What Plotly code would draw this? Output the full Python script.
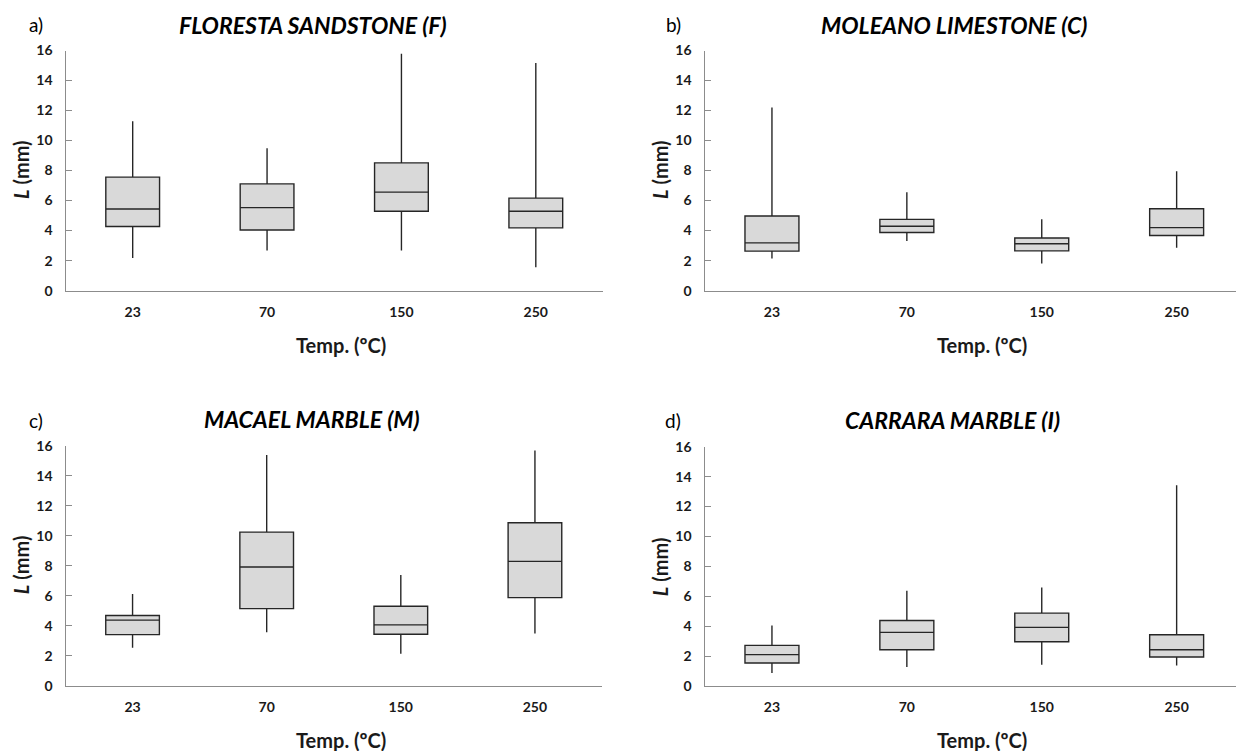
import plotly.graph_objects as go

W, H = 1236, 751
temps = ["23", "70", "150", "250"]

# Panel a) Floresta sandstone
a_low = [2.18, 2.67, 2.67, 1.56]
a_q1 = [4.27, 4.04, 5.29, 4.18]
a_med = [5.44, 5.53, 6.56, 5.29]
a_q3 = [7.56, 7.11, 8.51, 6.16]
a_up = [11.29, 9.49, 15.78, 15.16]

# Panel b) Moleano limestone
b_low = [2.14, 3.31, 1.81, 2.85]
b_q1 = [2.63, 3.87, 2.65, 3.67]
b_med = [3.18, 4.29, 3.12, 4.20]
b_q3 = [4.97, 4.75, 3.51, 5.46]
b_up = [12.2, 6.56, 4.75, 7.96]

# Panel c) Macael marble
c_low = [2.53, 3.57, 2.13, 3.48]
c_q1 = [3.41, 5.14, 3.43, 5.87]
c_med = [4.37, 7.91, 4.06, 8.29]
c_q3 = [4.68, 10.24, 5.30, 10.86]
c_up = [6.12, 15.38, 7.38, 15.67]

# Panel d) Carrara marble
d_low = [0.89, 1.29, 1.44, 1.38]
d_q1 = [1.55, 2.44, 2.97, 1.95]
d_med = [2.11, 3.60, 3.93, 2.44]
d_q3 = [2.73, 4.39, 4.88, 3.44]
d_up = [4.06, 6.37, 6.59, 13.43]

titles = ["FLORESTA SANDSTONE (F)", "MOLEANO LIMESTONE (C)", "MACAEL MARBLE (M)", "CARRARA MARBLE (I)"]
letters = ["a)", "b)", "c)", "d)"]
xtitle = "Temp. (ºC)"
ytitle = "<i>L</i> (mm)"

FONT = "Lato"

panels = [
    (a_low, a_q1, a_med, a_q3, a_up),
    (b_low, b_q1, b_med, b_q3, b_up),
    (c_low, c_q1, c_med, c_q3, c_up),
    (d_low, d_q1, d_med, d_q3, d_up),
]


def px(x):
    return x / W


def py(y):
    # small vertical calibration of the rendered page
    y2 = (y - 9.0) / 0.977
    return 1 - y2 / H


# target pixel layout of plot areas (left, right, top, bottom)
areas = [
    (65.5, 603, 50.5, 290.5),
    (704.5, 1236, 50.5, 290.5),
    (65.5, 602, 445.5, 685.5),
    (704.5, 1236, 446.5, 686),
]
# category spacing ~134 px; right panels are clipped by the page edge
xranges = [[-0.5, 3.5], [-0.5, 3.44], [-0.5, 3.5], [-0.5, 3.44]]

fig = go.Figure()
layout = dict(
    width=W, height=H, margin=dict(l=0, r=0, t=0, b=0), autosize=False,
    paper_bgcolor="white", plot_bgcolor="white", showlegend=False,
    font=dict(family=FONT, color="#1a1a1a"),
)

for i, (lo, q1, md, q3, up) in enumerate(panels):
    xa = "x" if i == 0 else f"x{i+1}"
    ya = "y" if i == 0 else f"y{i+1}"
    fig.add_trace(go.Box(
        x=temps, lowerfence=lo, q1=q1, median=md, q3=q3, upperfence=up,
        xaxis=xa, yaxis=ya, width=0.4, whiskerwidth=0,
        fillcolor="#d9d9d9", line=dict(color="#262626", width=1.4),
        boxpoints=False, hoverinfo="skip",
    ))
    l, r, t, b = areas[i]
    xkey = "xaxis" if i == 0 else f"xaxis{i+1}"
    ykey = "yaxis" if i == 0 else f"yaxis{i+1}"
    layout[xkey] = dict(
        domain=[px(l), min(1.0, px(r))], anchor=ya, type="category",
        categoryorder="array", categoryarray=temps, range=xranges[i],
        showline=True, linecolor="#8c8c8c", linewidth=1.3,
        ticks="outside", ticklen=8, tickcolor="rgba(0,0,0,0)",
        showgrid=False, zeroline=False,
        tickfont=dict(family=FONT, size=14, color="#1a1a1a", weight="bold"),
    )
    layout[ykey] = dict(
        domain=[py(b), py(t)], anchor=xa, range=[0, 16],
        tickvals=list(range(0, 17, 2)),
        showline=True, linecolor="#8c8c8c", linewidth=1.3,
        ticks="inside", ticklen=6, tickcolor="#8c8c8c", ticklabelstandoff=9,
        showgrid=False, zeroline=False,
        tickfont=dict(family=FONT, size=14, color="#1a1a1a", weight="bold"),
    )

fig.update_layout(**layout)

ann = []
title_pos = [(313, 25), (954, 25), (312, 419), (952, 420)]
letter_pos = [(36, 24), (673, 24), (36, 420), (673, 420)]
xt_pos = [(341, 345), (982, 345), (341, 740), (982, 740)]
yt_pos = [(21, 170), (660, 170), (21, 565), (660, 567)]
for i in range(4):
    ann.append(dict(x=px(title_pos[i][0]), y=py(title_pos[i][1]), xref="paper", yref="paper",
                    xanchor="center", yanchor="middle",
                    text=f"<b><i>{titles[i]}</i></b>", showarrow=False,
                    font=dict(family=FONT, size=23, color="#000")))
    ann.append(dict(x=px(letter_pos[i][0]), y=py(letter_pos[i][1]), xref="paper", yref="paper",
                    xanchor="center", yanchor="middle",
                    text=letters[i], showarrow=False,
                    font=dict(family=FONT, size=19, color="#000")))
    ann.append(dict(x=px(xt_pos[i][0]), y=py(xt_pos[i][1]), xref="paper", yref="paper",
                    xanchor="center", yanchor="middle",
                    text=f"<b>{xtitle}</b>", showarrow=False,
                    font=dict(family=FONT, size=20, color="#1a1a1a")))
    ann.append(dict(x=px(yt_pos[i][0]), y=py(yt_pos[i][1]), xref="paper", yref="paper",
                    xanchor="center", yanchor="middle",
                    text=f"<b>{ytitle}</b>", showarrow=False, textangle=-90,
                    font=dict(family=FONT, size=20, color="#1a1a1a")))
fig.update_layout(annotations=ann)

# pin the figure to the top-left corner of the page so it fills the window exactly
pin = (
    "document.documentElement.style.margin='0';"
    "document.body.style.margin='0';"
    "document.body.style.overflow='hidden';"
    "var gd=document.getElementById('{plot_id}');"
    "gd.style.position='fixed';gd.style.left='0px';gd.style.top='0px';"
)
fig.write_html("out.html", post_script=pin, config={"displayModeBar": False})
